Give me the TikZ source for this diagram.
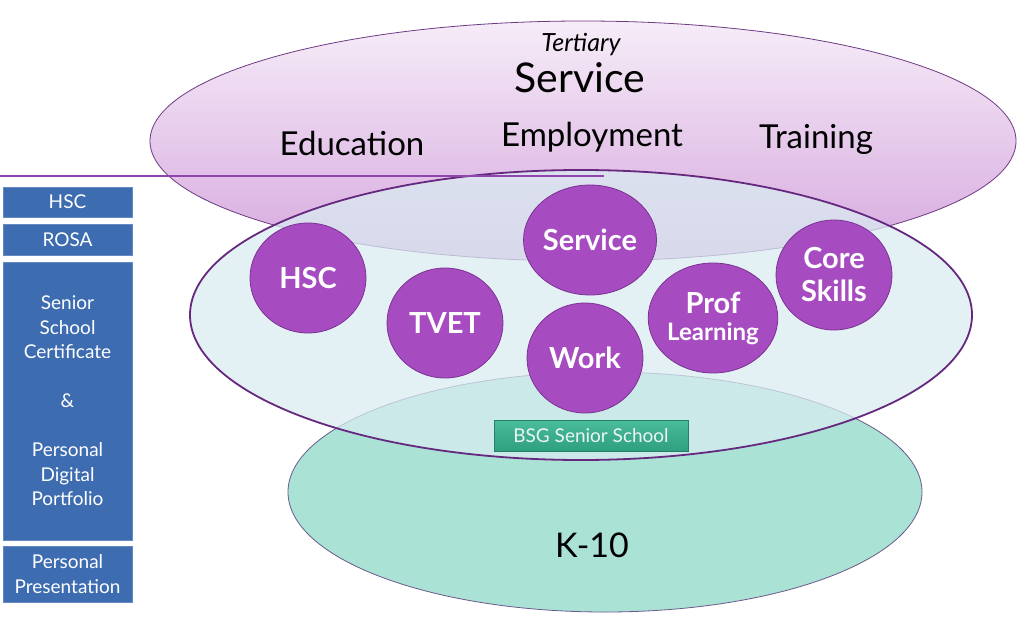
\documentclass[tikz,border=0pt]{standalone}
\usepackage{fontspec}
\setmainfont{Lato}
\usetikzlibrary{shapes.geometric}
\definecolor{topfillA}{HTML}{F6ECF8}
\definecolor{topfillB}{HTML}{D6A8DE}
\definecolor{edgepurple}{HTML}{6E3A84}
\definecolor{midfill}{RGB}{217,236,241}
\definecolor{midedge}{HTML}{66287E}
\definecolor{tealfill}{HTML}{AAE2D6}
\definecolor{tealedge}{HTML}{6A5A8C}
\definecolor{circfill}{HTML}{A74CC0}
\definecolor{circedge}{HTML}{7B3294}
\definecolor{boxblue}{HTML}{3E6CB0}
\definecolor{linepurple}{HTML}{9045AE}
\definecolor{bsgA}{HTML}{4ABD9C}
\definecolor{bsgB}{HTML}{2E9F7F}
\tikzset{
  bubble/.style={ellipse, fill=circfill, draw=circedge, line width=0.8pt,
    minimum width=116pt, minimum height=110pt, inner sep=0pt,
    text=white, font=\bfseries\fontsize{29}{33}\selectfont, align=center},
  sidebox/.style={rectangle, fill=boxblue, draw=boxblue!80!white, line width=0.6pt,
    minimum width=129pt, inner sep=0pt, text=white,
    font=\fontsize{19}{24.5}\selectfont, align=center},
  toplabel/.style={text=black, font=\fontsize{33}{35}\selectfont, inner sep=0pt},
}
\begin{document}
\begin{tikzpicture}[x=1pt,y=-1pt]
\useasboundingbox (0,0) rectangle (1027,618);
\fill[white] (0,0) rectangle (1027,618);
% top ellipse
\shade[top color=topfillA, bottom color=topfillB, draw=edgepurple, line width=0.8pt]
  (583,141) ellipse [x radius=433pt, y radius=120pt];
% teal ellipse
\fill[tealfill, draw=tealedge, line width=0.8pt]
  (605,492) ellipse [x radius=317pt, y radius=120pt];
% middle ellipse
\fill[midfill, fill opacity=0.73] (581,315) ellipse [x radius=391pt, y radius=145pt];
\draw[midedge, line width=1.8pt] (581,315) ellipse [x radius=391pt, y radius=145pt];
% horizontal line
\coordinate (lineL) at (0,176);
\coordinate (lineR) at (604,176);
\draw[linepurple, line width=2.4pt] (lineL) -- (lineR);
% top texts
\node[text=black, font=\fontsize{41}{44}\selectfont, inner sep=0pt] (servtitle) at (580,78) {Service};
\node[text=black, font=\itshape\fontsize{25}{27}\selectfont, inner sep=0pt] (tert) at (581,45) {Tertiary};
\node[toplabel] (edu) at (352,143) {Education};
\node[toplabel] (emp) at (592,137) {Employment};
\node[toplabel] (tra) at (816,139) {Training};
% bubbles
\node[bubble] (hsc) at (308,278) {HSC};
\node[bubble] (tvet) at (445,323) {TVET};
\node[bubble] (serv) at (590,240) {Service};
\node[bubble] (work) at (585,358) {Work};
\node[bubble] (prof) at (713,318) {Prof\\[-6pt]{\fontsize{24}{26}\selectfont Learning}};
\node[bubble] (core) at (834,275) {Core\\Skills};
% BSG box
\shade[top color=bsgA, bottom color=bsgB, draw=bsgB!80!black, line width=0.4pt]
  (494,420) rectangle (688,451);
\node[text=white!92!teal, font=\fontsize{19}{21}\selectfont, inner sep=0pt] (bsg) at (591,435.5) {BSG Senior School};
% K-10
\node[text=black, font=\fontsize{34}{36}\selectfont, inner sep=0pt] (k10) at (592,545) {K-10};
% side boxes
\node[sidebox, minimum height=30pt] (bhsc) at (67.5,202) {HSC};
\node[sidebox, minimum height=31pt] (brosa) at (67.5,239.5) {ROSA};
\node[sidebox, minimum height=278pt] (bcert) at (67.5,401) {Senior\\School\\Certificate\\[24.5pt]\&\\[24.5pt]Personal\\Digital\\Portfolio};
\node[sidebox, minimum height=56pt] (bpres) at (67.5,574) {Personal\\Presentation};
\end{tikzpicture}
\end{document}
